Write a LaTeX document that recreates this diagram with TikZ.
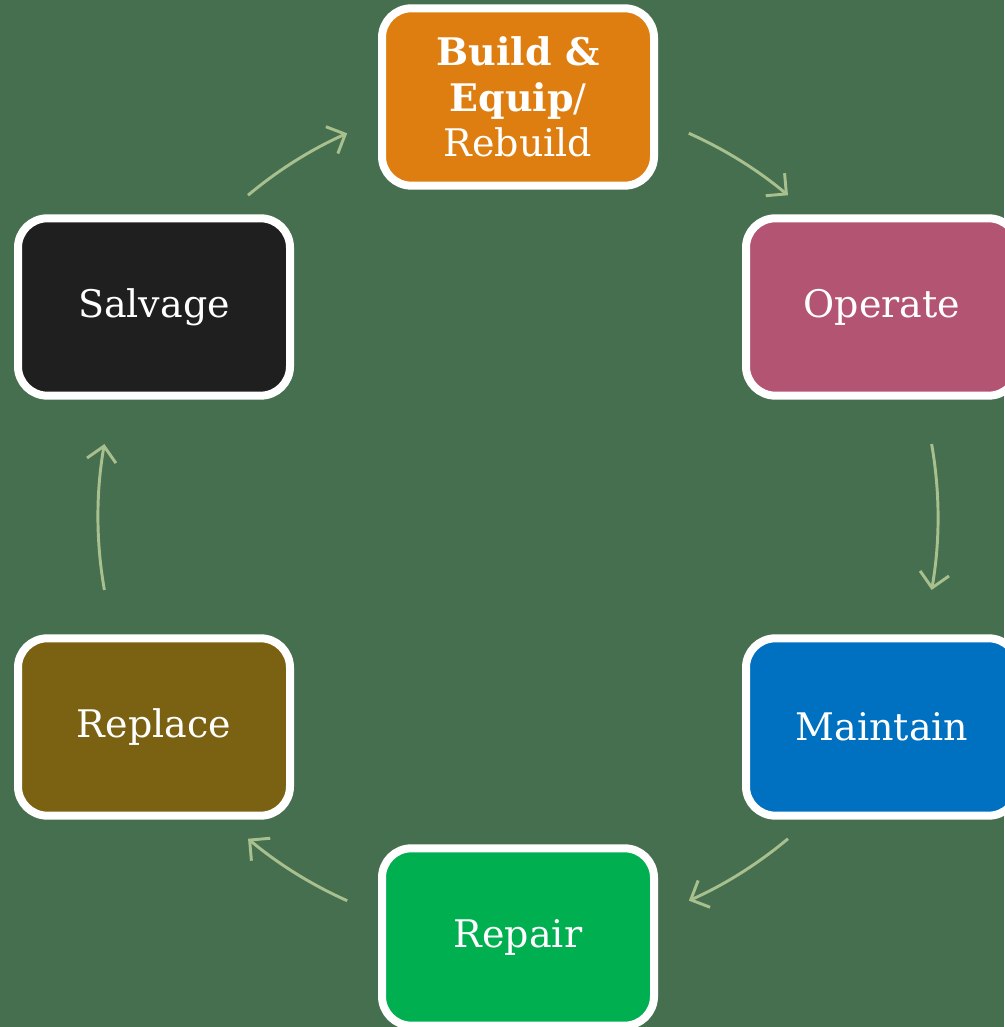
\documentclass[tikz,border=0pt]{standalone}
\usepackage{fontspec}
\setmainfont{DejaVu Serif}
\usetikzlibrary{arrows.meta,calc}
\definecolor{bg}{HTML}{466F50}
\definecolor{arr}{HTML}{A8BF8E}
\definecolor{cBuild}{HTML}{DE7E10}
\definecolor{cOperate}{HTML}{B45473}
\definecolor{cMaintain}{HTML}{0070C0}
\definecolor{cRepair}{HTML}{00AF50}
\definecolor{cReplace}{HTML}{7B6213}
\definecolor{cSalvage}{HTML}{1F1F1F}
\tikzset{
  stagebox/.style={draw=white, line width=6pt, rounded corners=22pt,
    minimum width=204pt, minimum height=133pt, text=white,
    font=\fontsize{28.5}{34}\selectfont, align=center, inner sep=0pt},
  cyclearrow/.style={draw=arr, line width=2.2pt,
    -{Straight Barb[length=11pt,width=22pt,line width=2.2pt]}}
}
\begin{document}
\begin{tikzpicture}[x=0.75pt,y=0.75pt]
\fill[bg] (0,0) rectangle (1004,1027);
\useasboundingbox (0,0) rectangle (1004,1027);
\coordinate (c) at (518,510);
\node[stagebox, fill=cBuild] (build) at (518,930)
  {\textbf{Build \&}\\\textbf{Equip}/\\Rebuild};
\node[stagebox, fill=cOperate] (operate) at (882,720) {Operate};
\node[stagebox, fill=cMaintain] (maintain) at (882,300) {Maintain};
\node[stagebox, fill=cRepair] (repair) at (518,90) {Repair};
\node[stagebox, fill=cReplace] (replace) at (154,300) {Replace};
\node[stagebox, fill=cSalvage] (salvage) at (154,720) {Salvage};
\coordinate (s1) at ($(c)+(66:315pt)$);
\coordinate (s2) at ($(c)+(10:315pt)$);
\coordinate (s3) at ($(c)+(-50:315pt)$);
\coordinate (s4) at ($(c)+(-114:315pt)$);
\coordinate (s5) at ($(c)+(-170:315pt)$);
\coordinate (s6) at ($(c)+(130:315pt)$);
\draw[cyclearrow] (s1) arc[start angle=66, end angle=50, radius=315pt];
\draw[cyclearrow] (s2) arc[start angle=10, end angle=-10, radius=315pt];
\draw[cyclearrow] (s3) arc[start angle=-50, end angle=-66, radius=315pt];
\draw[cyclearrow] (s4) arc[start angle=-114, end angle=-130, radius=315pt];
\draw[cyclearrow] (s5) arc[start angle=-170, end angle=-190, radius=315pt];
\draw[cyclearrow] (s6) arc[start angle=130, end angle=114, radius=315pt];
\end{tikzpicture}
\end{document}
